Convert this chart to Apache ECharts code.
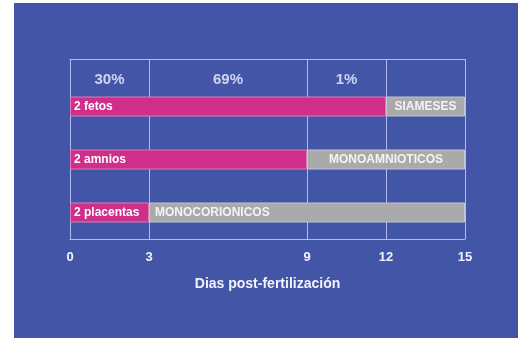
<!DOCTYPE html>
<html>
<head>
<meta charset="utf-8">
<script src="https://cdn.jsdelivr.net/npm/echarts@6/dist/echarts.min.js"></script>
<style>
  html, body { margin: 0; padding: 0; background: #fff; }
  #chart { width: 518px; height: 339px; }
</style>
</head>
<body>
<div id="chart"></div>
<script>
// rows, top to bottom
var rows = ['2 fetos', '2 amnios', '2 placentas'];
// day where the "double" stage ends for each row
var pinkEnd = [12, 9, 3];
var grayEnd = [15, 15, 15];
var grayLabels = ['SIAMESES', 'MONOAMNIOTICOS', 'MONOCORIONICOS'];
var grayLabelPos = ['inside', 'inside', 'insideLeft'];
// axis ticks (days post-fertilization)
var dayTicks = [0, 3, 9, 12, 15];
// percentages for the spans between ticks
var pctLabels = ['30%', '69%', '1%'];

var font = 'Liberation Sans';
var lineColor = '#b3bbea';
var textColor = '#f2f3ff';

var myChart = echarts.init(document.getElementById('chart'));

var grayData = grayEnd.map(function (v, i) {
    return {
        value: v - pinkEnd[i],
        label: { position: grayLabelPos[i], formatter: grayLabels[i] }
    };
});

var pctData = pctLabels.map(function (p, i) {
    return { value: [(dayTicks[i] + dayTicks[i + 1]) / 2, 0], label: { formatter: p } };
});

var option = {
    backgroundColor: '#ffffff',
    animation: false,
    graphic: [{
        type: 'rect',
        silent: true,
        z: -100,
        shape: { x: 14, y: 3, width: 504, height: 335 },
        style: { fill: '#4255a6' }
    }],
    grid: [
        // header strip with the percentages (overlaps the bar grid)
        { left: 70, right: 53, top: 59, height: 41 },
        { left: 70, right: 53, top: 80, bottom: 100 }
    ],
    xAxis: [{
        gridIndex: 0,
        type: 'value',
        min: 0,
        max: 15,
        position: 'top',
        axisLine: { show: true, lineStyle: { color: lineColor, width: 1 } },
        axisTick: { show: false, customValues: dayTicks },
        axisLabel: { show: false },
        splitLine: { show: true, lineStyle: { color: lineColor, width: 1 } }
    }, {
        gridIndex: 1,
        type: 'value',
        min: 0,
        max: 15,
        axisLine: { show: true, lineStyle: { color: lineColor, width: 1 } },
        axisTick: { show: false, customValues: dayTicks },
        axisLabel: {
            customValues: dayTicks,
            color: textColor,
            fontFamily: font,
            fontWeight: 'bold',
            fontSize: 13,
            margin: 12
        },
        splitLine: { show: true, lineStyle: { color: lineColor, width: 1 } },
        name: 'Dias post-fertilización',
        nameLocation: 'middle',
        nameGap: 38,
        nameTextStyle: { color: textColor, fontFamily: font, fontWeight: 'bold', fontSize: 14 }
    }],
    yAxis: [{
        gridIndex: 0,
        type: 'category',
        data: ['pct'],
        show: false
    }, {
        gridIndex: 1,
        type: 'category',
        data: rows,
        inverse: true,
        show: false
    }],
    series: [{
        type: 'scatter',
        xAxisIndex: 0,
        yAxisIndex: 0,
        symbolSize: 0,
        data: pctData,
        label: {
            show: true,
            position: 'inside',
            color: textColor,
            fontFamily: font,
            fontWeight: 'bold',
            fontSize: 15
        }
    }, {
        type: 'bar',
        xAxisIndex: 1,
        yAxisIndex: 1,
        stack: 'dev',
        barWidth: 20,
        data: pinkEnd,
        itemStyle: { color: '#cf2e8a', borderColor: '#de7db4', borderWidth: 1 },
        label: {
            show: true,
            position: 'insideLeft',
            distance: 4,
            formatter: '{b}',
            color: '#ffffff',
            fontFamily: font,
            fontWeight: 'bold',
            fontSize: 12
        }
    }, {
        type: 'bar',
        xAxisIndex: 1,
        yAxisIndex: 1,
        stack: 'dev',
        barWidth: 20,
        data: grayData,
        itemStyle: { color: '#a9aaa9', borderColor: '#c4c6d4', borderWidth: 1 },
        label: {
            show: true,
            distance: 6,
            color: '#f4f4f4',
            fontFamily: font,
            fontWeight: 'bold',
            fontSize: 12
        }
    }]
};

myChart.setOption(option);
window.addEventListener('resize', function () {
    myChart.resize();
});
</script>
</body>
</html>
